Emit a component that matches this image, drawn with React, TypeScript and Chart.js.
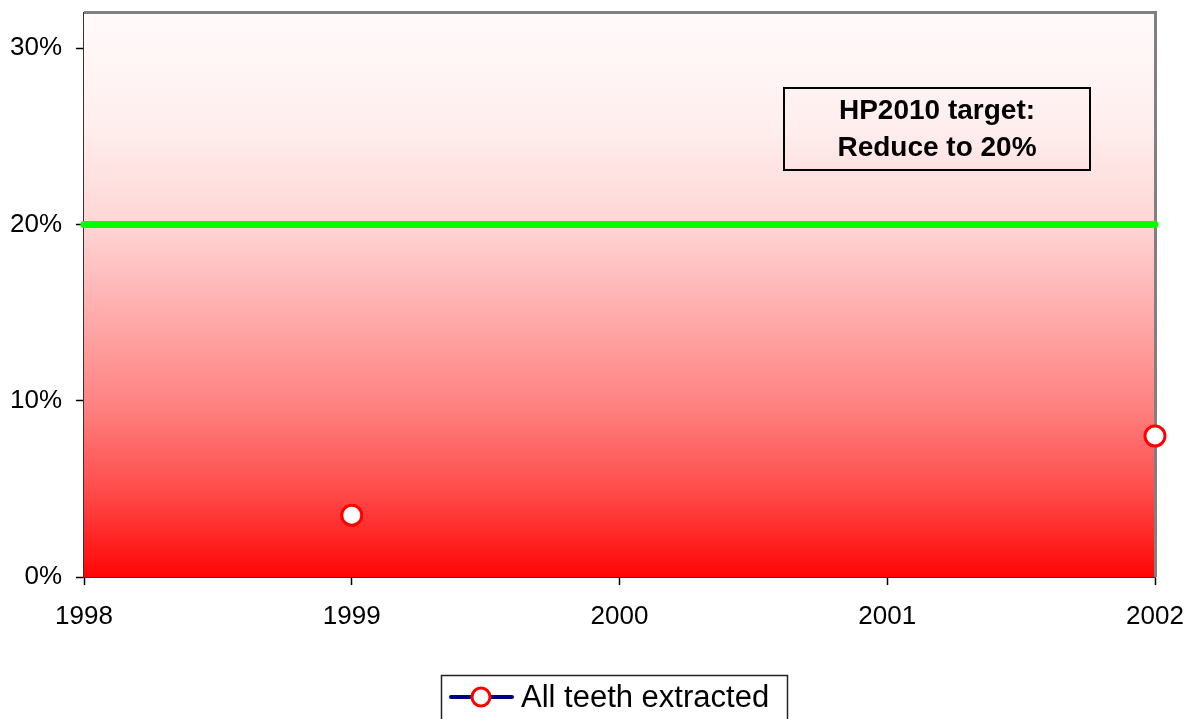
import React, { useEffect, useRef } from "react";
import { Chart, registerables } from "chart.js";

Chart.register(...registerables);

const years = ["1998", "1999", "2000", "2001", "2002"];
const allTeethExtracted: (number | null)[] = [null, 3.5, null, null, 8];
const targetValues = [20, 20, 20, 20, 20];
const yTicks = [0, 10, 20, 30];
const seriesLabel = "All teeth extracted";
const noteLines = ["HP2010 target:", "Reduce to 20%"];

const FONT = "'Liberation Sans', Arial, sans-serif";

const backgroundPlugin = {
  id: "bgGradient",
  beforeDatasetsDraw(chart: any) {
    const { ctx, chartArea: a } = chart;
    const g = ctx.createLinearGradient(0, a.top, 0, a.bottom);
    g.addColorStop(0, "#fffbfb");
    g.addColorStop(0.2, "#ffeeee");
    g.addColorStop(0.37, "#ffd6d6");
    g.addColorStop(0.55, "#ffa8a8");
    g.addColorStop(0.7, "#ff8080");
    g.addColorStop(0.85, "#ff4a4a");
    g.addColorStop(1, "#ff0505");
    ctx.save();
    ctx.fillStyle = g;
    ctx.fillRect(a.left, a.top, a.right - a.left, a.bottom - a.top);
    ctx.strokeStyle = "#808080";
    ctx.lineWidth = 3;
    ctx.beginPath();
    ctx.moveTo(a.left, a.top - 0.5);
    ctx.lineTo(a.right + 0.5, a.top - 0.5);
    ctx.lineTo(a.right + 0.5, a.bottom);
    ctx.stroke();
    ctx.restore();
  },
  afterDraw(chart: any) {
    const { ctx } = chart;
    ctx.save();
    ctx.strokeStyle = "#000";
    ctx.lineWidth = 2;
    ctx.strokeRect(784, 88, 306, 82);
    ctx.fillStyle = "#000";
    ctx.font = `bold 28px ${FONT}`;
    ctx.textAlign = "center";
    ctx.textBaseline = "middle";
    ctx.fillText(noteLines[0], 937, 111);
    ctx.fillText(noteLines[1], 937, 148);
    ctx.lineWidth = 1.5;
    ctx.strokeStyle = "#222";
    ctx.strokeRect(441.5, 675.5, 346, 60);
    ctx.strokeStyle = "#000080";
    ctx.lineWidth = 4;
    ctx.lineCap = "round";
    ctx.beginPath();
    ctx.moveTo(451, 697);
    ctx.lineTo(512, 697);
    ctx.stroke();
    ctx.beginPath();
    ctx.arc(481, 697, 9, 0, Math.PI * 2);
    ctx.fillStyle = "#fff";
    ctx.fill();
    ctx.strokeStyle = "#ff0000";
    ctx.lineWidth = 3;
    ctx.stroke();
    ctx.fillStyle = "#000";
    ctx.font = `31px ${FONT}`;
    ctx.textAlign = "left";
    ctx.fillText(chart.data.datasets[0].label, 521, 698);
    ctx.restore();
  },
};

export default function App() {
  const ref = useRef<HTMLCanvasElement>(null);
  useEffect(() => {
    document.body.style.margin = "0";
    const chart = new Chart(ref.current!, {
      type: "line",
      data: {
        labels: years,
        datasets: [
          {
            label: seriesLabel,
            data: allTeethExtracted,
            borderColor: "#000080",
            borderWidth: 3,
            pointRadius: 10,
            pointBorderWidth: 3,
            pointBackgroundColor: "#ffffff",
            pointBorderColor: "#ff0000",
            spanGaps: false,
            clip: false as any,
            order: 0,
          },
          {
            label: "HP2010 target",
            data: targetValues,
            borderColor: "#00ff00",
            borderWidth: 7,
            borderCapStyle: "round",
            pointRadius: 0,
            clip: false as any,
            order: 1,
          },
        ],
      },
      options: {
        responsive: false,
        animation: false,
        layout: { padding: { left: 0, right: 34, top: 10, bottom: 0 } },
        plugins: { legend: { display: false }, tooltip: { enabled: false } },
        scales: {
          x: {
            type: "category",
            offset: false,
            grid: { display: true, drawOnChartArea: false, tickLength: 8, color: "#000", tickWidth: 1.5 },
            border: { display: true, color: "#333", width: 2 },
            ticks: { color: "#000", font: { family: FONT, size: 26 }, padding: 16, maxRotation: 0, autoSkip: false },
            afterFit: (s: any) => {
              s.height = 142;
              s.paddingLeft = 0;
              s.paddingRight = 0;
            },
          },
          y: {
            min: 0,
            max: 32,
            afterBuildTicks: (s: any) => {
              s.ticks = yTicks.map((v) => ({ value: v }));
            },
            grid: { display: true, drawOnChartArea: false, tickLength: 8, color: "#000", tickWidth: 1.5 },
            border: { display: true, color: "#333", width: 2 },
            ticks: {
              color: "#000",
              font: { family: FONT, size: 26 },
              padding: 14,
              callback: (v: any) => `${v}%`,
            },
            afterFit: (s: any) => {
              s.width = 84;
              s.paddingTop = 0;
              s.paddingBottom = 0;
            },
          },
        },
      },
      plugins: [backgroundPlugin],
    });
    return () => chart.destroy();
  }, []);
  return (
    <div style={{ width: 1189, height: 719, background: "#fff" }}>
      <canvas ref={ref} width={1189} height={719} />
    </div>
  );
}
